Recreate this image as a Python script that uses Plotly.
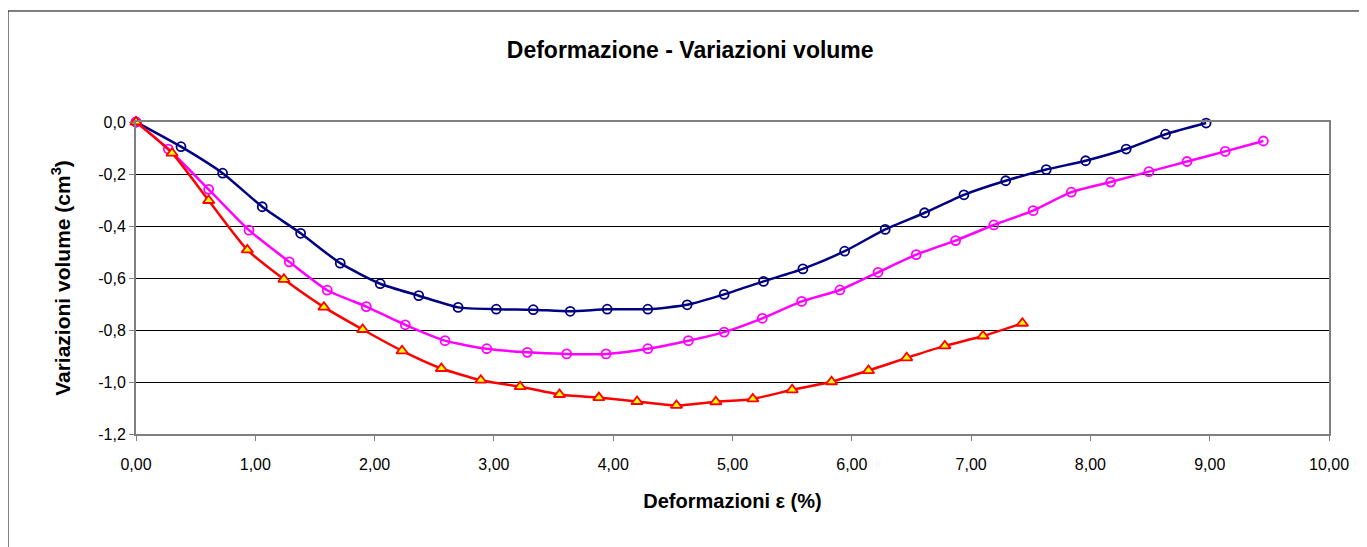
import plotly.graph_objects as go

## deformazione (%) e variazioni di volume (cm3) per i tre provini
def_blu = [0.0, 0.377, 0.726, 1.058, 1.38, 1.712, 2.047, 2.37, 2.70, 3.02, 3.33, 3.64, 3.95, 4.29,
           4.62, 4.93, 5.26, 5.59, 5.94, 6.28, 6.61, 6.94, 7.29, 7.63, 7.96, 8.30, 8.63, 8.97]
vol_blu = [0.0, -0.095, -0.197, -0.326, -0.428, -0.543, -0.622, -0.668, -0.713, -0.72, -0.722, -0.728, -0.72, -0.72,
           -0.703, -0.663, -0.613, -0.565, -0.497, -0.413, -0.349, -0.28, -0.226, -0.183, -0.149, -0.104, -0.047, -0.004]

def_mag = [0.0, 0.271, 0.609, 0.947, 1.285, 1.603, 1.93, 2.257, 2.59, 2.94, 3.28, 3.61, 3.94, 4.29, 4.63,
           4.93, 5.25, 5.58, 5.90, 6.22, 6.54, 6.87, 7.19, 7.52, 7.84, 8.17, 8.49, 8.81, 9.13, 9.45]
vol_mag = [0.0, -0.104, -0.259, -0.416, -0.538, -0.647, -0.71, -0.78, -0.841, -0.872, -0.886, -0.892, -0.892, -0.872, -0.841,
           -0.808, -0.755, -0.69, -0.646, -0.578, -0.51, -0.456, -0.396, -0.341, -0.27, -0.231, -0.191, -0.152, -0.113, -0.073]

def_ros = [0.0, 0.302, 0.609, 0.933, 1.24, 1.575, 1.90, 2.23, 2.56, 2.89, 3.22, 3.55, 3.88, 4.20, 4.53,
           4.86, 5.17, 5.50, 5.83, 6.14, 6.46, 6.78, 7.10, 7.43]
vol_ros = [0.0, -0.12, -0.302, -0.492, -0.605, -0.712, -0.798, -0.88, -0.948, -0.993, -1.018, -1.048, -1.06, -1.075, -1.09,
           -1.076, -1.065, -1.03, -0.999, -0.956, -0.907, -0.861, -0.823, -0.774]

x_ticks = [0, 1, 2, 3, 4, 5, 6, 7, 8, 9, 10]
x_labels = ["0,00", "1,00", "2,00", "3,00", "4,00", "5,00", "6,00", "7,00", "8,00", "9,00", "10,00"]
y_ticks = [0, -0.2, -0.4, -0.6, -0.8, -1.0, -1.2]
y_labels = ["0,0", "-0,2", "-0,4", "-0,6", "-0,8", "-1,0", "-1,2"]

font_fam = 'Liberation Sans, Arial'

fig = go.Figure()
fig.add_trace(go.Scatter(x=def_blu, y=vol_blu, mode='lines+markers', line=dict(color='#000080', width=2.5, shape='spline', smoothing=0.6),
                         marker=dict(symbol='circle-open', size=9, color='#000080', line=dict(width=1.8)), cliponaxis=False))
fig.add_trace(go.Scatter(x=def_mag, y=vol_mag, mode='lines+markers', line=dict(color='#FF00FF', width=2.5, shape='spline', smoothing=0.6),
                         marker=dict(symbol='circle-open', size=9, color='#FF00FF', line=dict(width=1.8)), cliponaxis=False))
fig.add_trace(go.Scatter(x=def_ros, y=vol_ros, mode='lines+markers', line=dict(color='#FF0000', width=2.5, shape='spline', smoothing=0.6),
                         marker=dict(symbol='triangle-up', size=10, color='#FFFF00', line=dict(width=1.8, color='#FF0000')), cliponaxis=False))

## cornice esterna del grafico
fig.add_shape(type='rect', xref='paper', yref='paper', x0=-0.1073, x1=1.2, y0=-0.6, y1=1.3558,
              line=dict(color='black', width=1), layer='below')

fig.update_xaxes(range=[0, 10], tickvals=x_ticks, ticktext=x_labels, showgrid=False, zeroline=False,
                 showline=True, linewidth=2, linecolor='#808080', mirror=True, ticks='outside', ticklen=5, tickcolor='#808080',
                 ticklabelstandoff=10, tickfont=dict(family=font_fam, size=16, color='black'),
                 title_text='<b>Deformazioni ε (%)</b>', title_font=dict(family=font_fam, size=20, color='black'), title_standoff=22)
fig.update_yaxes(range=[-1.2, 0], tickvals=y_ticks, ticktext=y_labels, showgrid=True, gridcolor='black', gridwidth=1, zeroline=False,
                 showline=True, linewidth=2, linecolor='#808080', mirror=True, ticks='outside', ticklen=5, tickcolor='#808080',
                 tickfont=dict(family=font_fam, size=16, color='black'),
                 title_text='<b>Variazioni volume (cm<sup>3</sup>)</b>', title_font=dict(family=font_fam, size=21, color='black'), title_standoff=22)
fig.update_layout(width=1359, height=539, margin=dict(l=128, r=38, t=114, b=113),
                  paper_bgcolor='white', plot_bgcolor='white', showlegend=False,
                  title=dict(text='<b>Deformazione - Variazioni volume</b>', x=0.502, xanchor='center', y=0.922, yanchor='middle',
                             font=dict(family=font_fam, size=23, color='black')))
fig.write_html("out.html")
